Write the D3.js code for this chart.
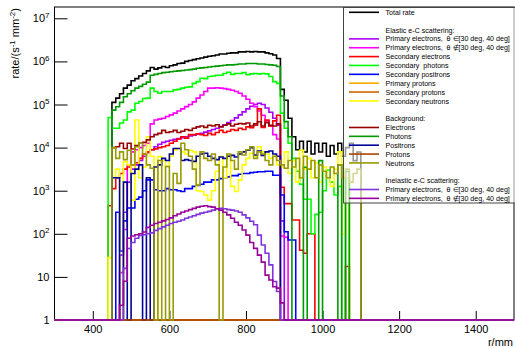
<!DOCTYPE html>
<html><head><meta charset="utf-8">
<script src="https://cdn.jsdelivr.net/npm/d3@7"></script>
<style>body{margin:0;background:#fff}svg{display:block;font-family:"Liberation Sans",Arial,Helvetica,sans-serif}</style>
</head><body><svg id="c" width="515" height="348"></svg>
<script>
// ---- data (rate per 10 mm bin, left bin edges in mm; empty bins = 0) ----
const rBins=[440,450,460,470,480,490,500,510,520,530,540,550,560,570,580,590,600,610,620,630,640,650,660,670,680,690,700,710,720,730,740,750,760,770,780,790,800,810,820,830,840,850,860,870,880,890,900,910,920,930,940,950,960,970,980,990,1000,1010,1020,1030,1040,1050,1060,1070,1080,1090];
const totalRate=[0,1.12e5,1.41e5,1.78e5,2.4e5,2.82e5,3.55e5,3.98e5,4.57e5,5.25e5,
6.03e5,7.24e5,6.61e5,7.08e5,7.59e5,7.24e5,7.94e5,8.32e5,8.91e5,9.12e5,
1.0e6,1.05e6,1.10e6,1.15e6,1.20e6,1.26e6,1.32e6,1.35e6,1.41e6,1.48e6,
1.48e6,1.55e6,1.58e6,1.58e6,1.66e6,1.66e6,1.70e6,1.66e6,1.70e6,1.66e6,
1.66e6,1.58e6,1.51e6,1.41e6,1.17e6,2.24e5,1.26e5,4.8e4,1.78e4,8.9e3,
1.41e4,7.9e3,1.41e4,7.1e3,1.26e4,7.9e3,1.26e4,6.3e3,1.12e4,7.1e3,
1.26e4,6.3e3,1.0e4,1.26e4,5.0e3,7.9e3];
const elPrimIn=[0,0,0,32,316,1.58e3,3.16e3,3.98e3,5.01e3,6.31e3,
7.59e3,8.91e3,1.05e4,1.2e4,1.32e4,1.41e4,1.48e4,1.55e4,1.62e4,1.7e4,
1.78e4,1.86e4,1.95e4,2.04e4,2.14e4,2.29e4,2.45e4,2.63e4,2.82e4,3.09e4,
3.39e4,3.8e4,4.27e4,4.9e4,5.75e4,6.76e4,7.94e4,9.12e4,1.0e5,1.07e5,
1.0e5,8.32e4,6.61e4,4.79e4,3.31e4,200,0,0,0,0,
0,0,0,0,0,0,0,0,0,0,0,0,0,0,0,0];
const elPrimOut=[0,0,0,12.6,126,3.98e3,7.94e3,8.91e3,1.0e4,1.12e4,
1.26e4,3.55e4,4.37e4,4.57e4,4.79e4,5.25e4,5.75e4,6.31e4,7.08e4,7.94e4,
8.91e4,1.0e5,1.15e5,1.41e5,1.66e5,2.0e5,2.4e5,2.4e5,2.45e5,2.4e5,
2.34e5,2.24e5,2.14e5,2.0e5,1.82e5,1.58e5,1.32e5,1.07e5,8.91e4,7.08e4,
5.62e4,4.17e4,3.16e4,2.0e4,1.58e4,89,83,0,0,0,
0,0,0,0,0,0,0,0,0,0,0,0,0,0,0,0];
const elSecElectrons=[447,1.12e3,2.0e3,2.51e3,3.16e3,3.55e3,3.98e3,4.47e3,5.62e3,7.08e3,
7.94e3,8.91e3,9.33e3,1.0e4,1.05e4,1.12e4,1.26e4,1.41e4,1.58e4,1.78e4,
1.66e4,2.0e4,2.0e4,2.09e4,2.0e4,1.91e4,2.14e4,2.0e4,2.24e4,2.51e4,
2.24e4,2.4e4,2.63e4,2.51e4,2.82e4,2.63e4,3.02e4,2.88e4,3.31e4,7.94e4,
2.95e4,4.37e4,3.16e4,4.17e4,5.62e4,1.2e3,501,501,209,209,
41.7,35.5,100,100,0,0,0,0,0,0,
0,0,17.4,0,0,0];
const elSecPhotons=[5.0e4,2.82e4,2.82e4,3.72e4,4.37e4,6.76e4,7.41e4,1.07e5,1.17e5,1.38e5,
1.41e5,2.4e5,2.0e5,1.82e5,2.0e5,2.0e5,2.0e5,2.19e5,2.24e5,2.4e5,
2.51e5,2.57e5,3.09e5,3.39e5,4.07e5,3.98e5,4.47e5,4.57e5,4.79e5,4.79e5,
5.25e5,5.62e5,5.01e5,5.25e5,5.25e5,5.5e5,4.9e5,5.13e5,5.25e5,5.13e5,
5.25e5,5.13e5,4.47e5,3.39e5,3.09e5,6.31e4,2.82e4,1.26e4,5.62e3,2.82e3,
1.41e3,631,631,100,282,316,1.0e3,3.02e3,1.58e3,794,
1.26e3,0,2.0e3,0,0,0];
const elSecPositrons=[0,0,316,40,200,398,398,631,708,1.0e3,
1.78e3,1.78e3,1.05e3,1.0e3,1.0e3,1.12e3,1.05e3,1.05e3,1.0e3,955,
1.12e3,1.12e3,1.26e3,1.32e3,1.41e3,1.58e3,1.58e3,1.78e3,1.78e3,1.91e3,
2.0e3,2.09e3,2.24e3,2.24e3,2.4e3,2.51e3,2.51e3,2.63e3,2.69e3,2.75e3,
2.75e3,2.82e3,2.82e3,2.29e3,2.29e3,794,112,72,72,0,
0,0,0,0,0,0,0,0,0,0,0,0,0,0,0,0];
const elPrimProtons=[];   // all bins empty
const elSecProtons=[];    // all bins empty
const elSecNeutrons=[28,2.0e3,3.16e3,0,4.68e3,3.98e3,603,4.37e4,2.0e3,3.55e3,
1.78e4,6.31e3,0,6.17e3,5.01e3,3.63e3,6.31e3,8.91e3,9.55e3,7.94e3,
7.08e3,8.71e3,7.94e3,1.0e3,955,794,603,1.0e3,2.82e3,6.17e3,
2.0e3,6.76e3,1.26e3,955,1.78e3,3.98e3,5.62e3,7.41e3,6.31e3,1.05e4,
7.94e3,7.08e3,5.62e3,6.31e3,3.98e3,3.55e3,7.94e3,2.51e3,5.01e3,1.58e3,
8.71e3,3.16e3,5.62e3,2.0e3,4.47e3,1.58e3,3.55e3,2.0e3,1.26e3,3.16e3,
7.94e3,100,2.0e3,0,0,0];
const bgElectrons=[0,1.0e4,1.05e4,1.26e4,9.5e3,1.26e4,9.3e3,1.12e4,1.26e4,1.32e4,
1.51e4,1.78e4,2.0e4,2.14e4,2.51e4,2.24e4,2.34e4,2.51e4,2.24e4,2.4e4,
2.63e4,2.51e4,2.82e4,3.02e4,3.16e4,2.95e4,3.31e4,3.16e4,3.39e4,3.02e4,
3.31e4,3.55e4,3.16e4,3.47e4,3.63e4,3.55e4,3.72e4,3.16e4,3.55e4,3.98e4,
3.16e4,3.8e4,3.31e4,3.16e4,3.55e4,0,0,0,0,0,
0,0,0,0,0,0,0,0,0,0,0,0,0,0,0,0];
const bgPhotons=[0,7.4e4,8.9e4,1.12e5,1.51e5,1.78e5,2.09e5,2.4e5,2.63e5,2.95e5,
3.31e5,4.79e5,5.0e5,5.25e5,5.5e5,5.62e5,5.75e5,5.89e5,6.03e5,6.17e5,
6.31e5,6.46e5,6.61e5,6.92e5,7.08e5,7.24e5,7.41e5,7.59e5,7.76e5,7.94e5,
8.13e5,8.32e5,8.32e5,8.51e5,8.71e5,8.71e5,8.91e5,8.91e5,8.91e5,8.71e5,
8.71e5,8.51e5,8.32e5,8.13e5,7.59e5,1.58e5,4.0e4,1.78e4,0,0,
0,3.5e3,0,0,0,5.0e3,0,0,0,0,
4.0e3,0,2.8e3,0,0,0];
const bgPositrons=[0,2.0e3,2.0e3,0,1.58e3,0,2.51e3,3.16e3,3.98e3,0,
2.0e3,0,3.55e3,3.98e3,5.62e3,5.01e3,7.08e3,9.55e3,9.55e3,5.01e3,
5.25e3,5.01e3,4.79e3,6.31e3,7.08e3,7.41e3,6.31e3,5.62e3,5.25e3,6.03e3,
5.62e3,6.31e3,6.61e3,6.03e3,7.08e3,7.94e3,8.71e3,1.0e4,6.76e3,8.32e3,
6.61e3,7.94e3,8.32e3,7.08e3,6.31e3,0,0,0,0,0,
0,0,0,0,0,0,0,0,0,0,0,0,0,0,0,0];
const bgProtons=[];       // all bins empty
const bgNeutrons=[0,1.0e4,5.62e3,7.94e3,5.25e3,8.71e3,3.98e3,1.05e4,1.26e4,7.08e3,
3.98e3,3.31e3,0,5.01e3,0,3.63e3,0,2.51e3,1.48e3,1.26e4,
8.91e3,6.31e3,3.16e3,1.35e3,7.94e3,5.62e3,5.01e3,7.08e3,3.98e3,0,
3.55e3,7.08e3,5.01e3,3.16e3,7.94e3,6.76e3,8.91e3,1.05e4,5.62e3,7.94e3,
7.08e3,5.01e3,3.98e3,6.31e3,5.01e3,3.98e3,3.31e3,5.01e3,3.55e3,5.62e3,
2.0e3,6.31e3,3.16e3,5.01e3,2.0e3,3.98e3,2.82e3,2.0e3,3.55e3,2.51e3,
3.98e3,2.0e3,3.16e3,1.58e3,2.51e3,3.16e3];
const inPrimIn=[0,0,0,0,15.8,45.7,63,79,91,95,
100,105,120,132,145,158,174,186,195,209,
229,245,263,282,302,316,331,355,380,389,
380,363,355,339,316,275,234,195,162,93,
55,35.5,19,7.8,4.6,0,0,0,0,0,
0,0,0,0,0,0,0,0,0,0,0,0,0,0,0,0];
const inPrimOut=[0,0,0,2.2,7.9,79,89,95,100,110,
141,158,174,186,200,214,234,263,288,316,
339,363,389,417,437,447,427,417,380,355,
316,275,229,186,158,123,93,63,46,32,
22,11,8.5,5.9,5.5,2.5,0,0,0,0,
0,0,0,0,0,0,0,0,0,0,0,0,0,0,0,0];
const xTickValues=[400,600,800,1000,1200,1400];
const yTickValues=[1,10,1e2,1e3,1e4,1e5,1e6,1e7];

const series=[
 {label:"Total rate",color:"#000000",v:totalRate},
 {gap:true},
 {header:"Elastic e-C scattering:"},
 {label:"Primary electrons,  \u03b8 \u2208[30 deg, 40 deg]",color:"#aa00ff",v:elPrimIn},
 {label:"Primary electrons,  \u03b8 \u2209[30 deg, 40 deg]",color:"#ff00ff",v:elPrimOut},
 {label:"Secondary electrons",color:"#ff0000",v:elSecElectrons},
 {label:"Secondary  photons",color:"#00ff00",v:elSecPhotons},
 {label:"Secondary positrons",color:"#0000ff",v:elSecPositrons},
 {label:"Primary protons",color:"#ffaa00",v:elPrimProtons},
 {label:"Secondary protons",color:"#cc6600",v:elSecProtons},
 {label:"Secondary neutrons",color:"#ffff00",v:elSecNeutrons},
 {gap:true},
 {header:"Background:"},
 {label:"Electrons",color:"#990000",v:bgElectrons},
 {label:"Photons",color:"#009900",v:bgPhotons},
 {label:"Positrons",color:"#000099",v:bgPositrons},
 {label:"Protons",color:"#aa4400",v:bgProtons},
 {label:"Neutrons",color:"#999900",v:bgNeutrons},
 {gap:true},
 {header:"Inelastic e-C scattering:"},
 {label:"Primary electrons,  \u03b8 \u2208[30 deg, 40 deg]",color:"#7f33dd",v:inPrimIn},
 {label:"Primary electrons,  \u03b8 \u2209[30 deg, 40 deg]",color:"#990099",v:inPrimOut}
];

// ---- layout ----
const L=54.5,R=514,T=7,B=320;
const x=d3.scaleLinear().domain([300,1500]).range([L,R]);
const y=d3.scaleLog().domain([1,1.83e7]).range([B,T]);
const svg=d3.select('#c');
svg.append('clipPath').attr('id','clip').append('rect')
  .attr('x',L).attr('y',T).attr('width',R-L).attr('height',B-T+1.5);

// axes
const minorY=[];
for(let k=0;k<7;k++) for(let m=2;m<=9;m++) minorY.push(m*Math.pow(10,k));
const gy=svg.append('g').attr('transform',`translate(${L},0)`);
gy.call(d3.axisLeft(y).tickValues(minorY).tickSize(-7).tickFormat(''));
gy.call(d3.axisLeft(y).tickValues(yTickValues).tickSize(-13).tickPadding(5));
gy.selectAll('.domain').remove();
gy.selectAll('line').attr('stroke','#000');
gy.selectAll('text').attr('font-size',11).attr('font-family','Liberation Sans, Arial, sans-serif').attr('fill','#000')
  .each(function(d){
    const t=d3.select(this); t.text(null);
    if(d===1) t.text('1');
    else if(d===10) t.text('10');
    else { t.append('tspan').text('10'); t.append('tspan').attr('dy',-4.5).attr('font-size',8).text(Math.round(Math.log10(d))); }
  });

const minorX=d3.range(300,1501,50).filter(v=>v%200!==0);
const gx=svg.append('g').attr('transform',`translate(0,${B})`);
gx.call(d3.axisBottom(x).tickValues(minorX).tickSize(-5).tickFormat(''));
gx.call(d3.axisBottom(x).tickValues(xTickValues).tickSize(-9).tickPadding(5).tickFormat(d3.format('d')));
gx.selectAll('.domain').remove();
gx.selectAll('line').attr('stroke','#000');
gx.selectAll('text').attr('font-size',11).attr('font-family','Liberation Sans, Arial, sans-serif').attr('fill','#000');

// frame
svg.append('rect').attr('x',L).attr('y',T).attr('width',R-L).attr('height',B-T)
  .attr('fill','none').attr('stroke','#000').attr('stroke-width',1);

// axis titles
svg.append('text').attr('x',513).attr('y',346).attr('text-anchor','end').attr('font-size',11).text('r/mm');
const yt=svg.append('text').attr('transform','translate(19,8) rotate(-90)').attr('text-anchor','end').attr('font-size',11);
yt.append('tspan').text('rate/(s');
yt.append('tspan').attr('dy',-4).attr('font-size',8).text('-1');
yt.append('tspan').attr('dy',4).text(' mm');
yt.append('tspan').attr('dy',-4).attr('font-size',8).text('-2');
yt.append('tspan').attr('dy',4).text(')');

// histograms (step contours; empty bins sit on the axis floor)
const binW=rBins[1]-rBins[0];
const line=d3.line();
const gh=svg.append('g').attr('clip-path','url(#clip)');
series.filter(s=>s.v).forEach(s=>{
  const pts=[[x(300),B],[x(rBins[0]),B]];
  rBins.forEach((r,i)=>{
    const v=s.v[i]||0;
    const yy=v>0?y(Math.max(v,1)):B;
    pts.push([x(r),yy],[x(r+binW),yy]);
  });
  pts.push([x(rBins[rBins.length-1]+binW),B],[x(1500),B]);
  gh.append('path').attr('d',line(pts)).attr('fill','none').attr('stroke',s.color)
    .attr('stroke-width',1.6).attr('stroke-linejoin','miter');
});

// legend
const lg=svg.append('g');
lg.append('rect').attr('x',343.5).attr('y',7.5).attr('width',200).attr('height',195.5)
  .attr('fill','#fff').attr('fill-opacity',0.6).attr('stroke','#444').attr('stroke-width',1);
series.forEach((s,i)=>{
  const cy=12.3+i*8.86;
  if(s.gap) return;
  if(s.color){
    lg.append('line').attr('x1',349).attr('x2',379).attr('y1',cy).attr('y2',cy)
      .attr('stroke',s.color).attr('stroke-width',1.6);
  }
  lg.append('text').attr('x',385.5).attr('y',cy+2.6).attr('font-size',7.1)
    .style('white-space','pre').attr('fill','#000').text(s.label||s.header);
});
</script></body></html>
